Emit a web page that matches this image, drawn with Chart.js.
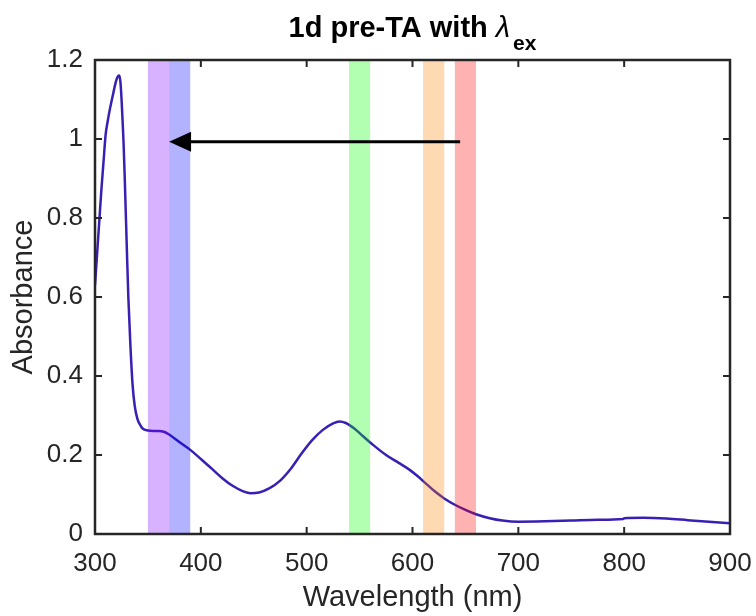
<!DOCTYPE html>
<html>
<head>
<meta charset="utf-8">
<script src="https://cdn.jsdelivr.net/npm/chart.js@4.4.1/dist/chart.umd.min.js"></script>
<style>
html,body{margin:0;padding:0;background:#fff;}
#wrap{width:756px;height:616px;position:relative;}
</style>
</head>
<body>
<div id="wrap"><canvas id="c" width="756" height="616"></canvas></div>
<script>
// ---------- data ----------
const wavelength = [300,302,304,306,308,310,312,314,316,318,320,322,323,324,325,326,327,328,329,330,331.5,333.5,335.5,337.5,340,342.5,345,350,355,360,365,370,380,390,400,410,420,430,440,447,455,465,475,485,495,505,515,525,531,537,545,553,563,575,587,597,605,613,621,630,640,650,660,673,685,700,725,750,775,799,800,818,840,860,880,900];
const absorbance = [0.63,0.71,0.79,0.87,0.94,1.01,1.045,1.075,1.10,1.125,1.148,1.16,1.161,1.145,1.105,1.05,0.99,0.91,0.82,0.73,0.60,0.475,0.378,0.325,0.292,0.277,0.267,0.262,0.261,0.261,0.259,0.252,0.232,0.213,0.19,0.166,0.142,0.122,0.108,0.103,0.105,0.116,0.135,0.165,0.203,0.237,0.263,0.28,0.285,0.281,0.267,0.248,0.225,0.2,0.18,0.163,0.146,0.127,0.108,0.09,0.074,0.061,0.050,0.040,0.034,0.031,0.032,0.034,0.036,0.038,0.040,0.041,0.039,0.035,0.031,0.027];
const xTickValues = [300,400,500,600,700,800,900];
const xTickLabels = ['300','400','500','600','700','800','900'];
const yTickValues = [0,0.2,0.4,0.6,0.8,1.0,1.2];
const yTickLabels = ['0','0.2','0.4','0.6','0.8','1','1.2'];
const bandStart = [350,370,540,610,640];
const bandEnd   = [370,390,560,630,660];
const arrowTail = [645, 0.993];
const arrowHead = [370, 0.993];
const titleMain = '1d pre-TA with ';
const titleGreek = 'λ';
const titleSub = 'ex';
const xLabel = 'Wavelength (nm)';
const yLabel = 'Absorbance';

// ---------- styles ----------
const FONT = "'Liberation Sans', Arial, Helvetica, sans-serif";
const AXIS = '#262626';
const LINE = '#3a1fb4';
const bandColors = ['rgb(128,0,255)','rgb(0,0,255)','rgb(0,255,0)','rgb(255,128,0)','rgb(255,0,0)'];

const overlay = {
  id: 'overlay',
  afterDatasetsDraw(chart) {
    const {ctx, chartArea: a, scales: {x, y}} = chart;
    ctx.save();
    ctx.globalAlpha = 0.3;
    for (let i = 0; i < bandStart.length; i++) {
      const x0 = x.getPixelForValue(bandStart[i]);
      const x1 = x.getPixelForValue(bandEnd[i]);
      ctx.fillStyle = bandColors[i];
      ctx.fillRect(x0, a.top, x1 - x0, a.bottom - a.top);
    }
    ctx.globalAlpha = 1;
    const tx = x.getPixelForValue(arrowTail[0]), ty = y.getPixelForValue(arrowTail[1]);
    const hx = x.getPixelForValue(arrowHead[0]), hy = y.getPixelForValue(arrowHead[1]);
    const headLen = 22, headHalf = 10;
    ctx.strokeStyle = '#000';
    ctx.lineWidth = 3;
    ctx.beginPath();
    ctx.moveTo(tx, ty);
    ctx.lineTo(hx + headLen - 2, hy);
    ctx.stroke();
    ctx.fillStyle = '#000';
    ctx.beginPath();
    ctx.moveTo(hx, hy);
    ctx.lineTo(hx + headLen, hy - headHalf);
    ctx.lineTo(hx + headLen, hy + headHalf);
    ctx.closePath();
    ctx.fill();
    ctx.strokeStyle = AXIS;
    ctx.lineWidth = 2.5;
    ctx.strokeRect(a.left, a.top, a.right - a.left, a.bottom - a.top);
    const tl = 7;
    ctx.lineWidth = 2;
    ctx.beginPath();
    xTickValues.forEach(v => {
      const px = x.getPixelForValue(v);
      ctx.moveTo(px, a.bottom); ctx.lineTo(px, a.bottom - tl);
      ctx.moveTo(px, a.top); ctx.lineTo(px, a.top + tl);
    });
    yTickValues.forEach(v => {
      const py = y.getPixelForValue(v);
      ctx.moveTo(a.left, py); ctx.lineTo(a.left + tl, py);
      ctx.moveTo(a.right, py); ctx.lineTo(a.right - tl, py);
    });
    ctx.stroke();
    ctx.restore();
  },
  afterDraw(chart) {
    const {ctx, chartArea: a} = chart;
    ctx.save();
    ctx.fillStyle = '#000';
    ctx.textBaseline = 'alphabetic';
    ctx.textAlign = 'left';
    const fMain = 'bold 29px ' + FONT;
    const fGreek = 'italic 29px ' + FONT;
    const fSub = 'bold 21px ' + FONT;
    ctx.font = fMain; const w1 = ctx.measureText(titleMain).width;
    ctx.font = fGreek; const w2 = ctx.measureText(titleGreek).width;
    ctx.font = fSub; const w3 = ctx.measureText(titleSub).width;
    const gap = 3;
    const total = w1 + w2 + gap + w3;
    const sx = (a.left + a.right) / 2 - total / 2;
    const base = 37;
    ctx.font = fMain; ctx.fillText(titleMain, sx, base);
    ctx.font = fGreek; ctx.fillText(titleGreek, sx + w1, base);
    ctx.font = fSub; ctx.fillText(titleSub, sx + w1 + w2 + gap, base + 13);
    ctx.restore();
  }
};

new Chart(document.getElementById('c'), {
  type: 'line',
  data: {
    datasets: [{
      data: wavelength.map((w, i) => ({x: w, y: absorbance[i]})),
      borderColor: LINE,
      borderWidth: 2.5,
      pointRadius: 0,
      cubicInterpolationMode: 'monotone',
      fill: false
    }]
  },
  options: {
    responsive: false,
    animation: false,
    devicePixelRatio: 1,
    layout: {padding: {left: 0, right: 26, top: 60, bottom: 0}},
    plugins: {legend: {display: false}, title: {display: false}, tooltip: {enabled: false}},
    scales: {
      x: {
        type: 'linear', min: 300, max: 900,
        afterBuildTicks: s => { s.ticks = xTickValues.map(v => ({value: v})); },
        afterFit: s => { s.height = 82; s.paddingLeft = 0; s.paddingRight = 0; },
        grid: {display: false, drawTicks: false},
        border: {display: false},
        ticks: {
          color: AXIS, font: {family: FONT, size: 26}, padding: 14, maxRotation: 0,
          callback: v => xTickLabels[xTickValues.indexOf(v)]
        },
        title: {display: true, text: xLabel, color: AXIS, font: {family: FONT, size: 29}, padding: {top: 0, bottom: 1}}
      },
      y: {
        type: 'linear', min: 0, max: 1.2,
        afterBuildTicks: s => { s.ticks = yTickValues.map(v => ({value: v})); },
        afterFit: s => { s.width = 95; s.paddingTop = 0; s.paddingBottom = 0; },
        grid: {display: false, drawTicks: false},
        border: {display: false},
        ticks: {
          color: AXIS, font: {family: FONT, size: 26}, padding: 12,
          callback: v => { const i = yTickValues.findIndex(t => Math.abs(t - v) < 1e-9); return i >= 0 ? yTickLabels[i] : ''; }
        },
        title: {display: true, text: yLabel, color: AXIS, font: {family: FONT, size: 29}, padding: {top: 7, bottom: 0}}
      }
    }
  },
  plugins: [overlay]
});
</script>
</body>
</html>
